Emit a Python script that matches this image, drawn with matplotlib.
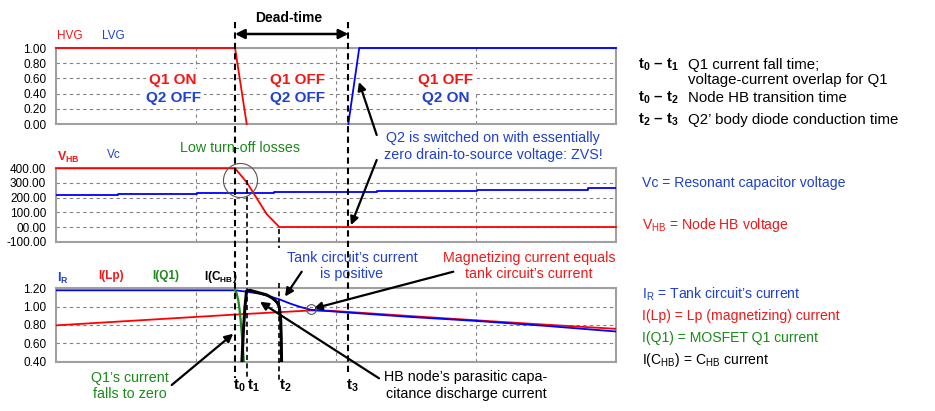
import matplotlib
matplotlib.use('Agg')
import matplotlib.pyplot as plt
import matplotlib.transforms as mtransforms
from matplotlib.lines import Line2D

plt.rcParams['font.family'] = ['Liberation Sans', 'DejaVu Sans']
plt.rcParams['mathtext.fontset'] = 'custom'
plt.rcParams['mathtext.rm'] = 'Liberation Sans'
plt.rcParams['mathtext.it'] = 'Liberation Sans:italic'
plt.rcParams['mathtext.bf'] = 'Liberation Sans:bold'

W, H, DPI = 935, 411, 100

# ---------------- data (time in grid divisions) ----------------
t_marks = [1.279, 1.362, 1.595, 2.088]
t_names = ['0', '1', '2', '3']

hvg_t = [0.0, 1.279, 1.362]
hvg_v = [1.0, 1.0, 0.0]
lvg_t = [2.088, 2.166, 4.0]
lvg_v = [0.0, 1.0, 1.0]

vhb_t = [0.0, 1.279, 1.362, 1.505, 1.595, 4.0]
vhb_v = [400, 400, 305, 88, 0, 0]
vc_t = [0.0, 0.443, 1.007, 1.557, 2.29, 3.005, 3.8, 4.0]
vc_v = [218, 225, 234, 241, 247, 252, 263, 263]

ir_t = [0.0, 1.279, 1.362, 1.457, 1.529, 1.595, 1.671, 1.743, 1.821,
        2.086, 2.529, 3.005, 3.493, 4.0]
ir_v = [1.178, 1.178, 1.163, 1.14, 1.11, 1.08, 1.034, 0.997, 0.965,
        0.935, 0.887, 0.843, 0.79, 0.728]
lp_t = [0.0, 1.279, 1.821, 1.957, 2.086, 2.529, 3.005, 3.493, 4.0]
lp_v = [0.795, 0.913, 0.958, 0.955, 0.942, 0.897, 0.85, 0.803, 0.757]
q1_t = [1.279, 1.291, 1.302, 1.311, 1.319, 1.325, 1.331, 1.337, 1.343, 1.346]
q1_v = [1.18, 1.14, 1.07, 0.97, 0.85, 0.74, 0.63, 0.5, 0.37, 0.3]
chb_t = [1.325, 1.339, 1.35, 1.361, 1.386, 1.409, 1.457, 1.505, 1.543,
         1.564, 1.582, 1.595, 1.602, 1.605, 1.609, 1.612]
chb_v = [0.3, 0.75, 1.0, 1.17, 1.178, 1.168, 1.148, 1.128, 1.095,
         1.07, 1.04, 0.997, 0.9, 0.85, 0.65, 0.3]

gate_ticks = [0.0, 0.2, 0.4, 0.6, 0.8, 1.0]
gate_labels = ['0.00', '0.20', '0.40', '0.60', '0.80', '1.00']
volt_ticks = [-100, 0, 100, 200, 300, 400]
volt_labels = ['-100.00', '00.00', '100.00', '200.00', '300.00', '400.00']
cur_ticks = [0.4, 0.6, 0.8, 1.0, 1.2]
cur_labels = ['0.40', '0.60', '0.80', '1.00', '1.20']

loss_circle = (1.316, 323)      # panel 2
equal_circle = (1.821, 0.971)   # panel 3

RED = '#ff0000'
BLUE = '#0000ff'
GREEN = '#1f8a1f'
TRED = '#f01818'
TBLUE = '#1f40d0'
TGREEN = '#1a8a1a'

fig = plt.figure(figsize=(W / DPI, H / DPI), dpi=DPI)
fig.patch.set_facecolor('white')


def make_ax(top, bottom, ylim, ticks, labels):
    ax = fig.add_axes([56 / W, 1 - bottom / H, 560 / W, (bottom - top) / H])
    ax.set_xlim(0, 4)
    ax.set_ylim(*ylim)
    ax.set_xticks([1, 2, 3])
    ax.set_xticklabels([])
    ax.set_yticks(ticks)
    ax.set_yticklabels(labels, fontsize=8.5)
    ax.tick_params(length=0, pad=7)
    ax.set_axisbelow(True)
    ax.grid(True, ls=(0, (3, 3)), color='#808080', lw=0.8)
    for s in ax.spines.values():
        s.set_color('#a0a0a0')
        s.set_linewidth(1.5)
    return ax


def P(x, y):
    return (x / W, 1 - y / H)


ax1 = make_ax(48, 124, (0, 1), gate_ticks, gate_labels)
ax2 = make_ax(168.3, 241.7, (-100, 400), volt_ticks, volt_labels)
ax3 = make_ax(288.3, 361.5, (0.4, 1.2), cur_ticks, cur_labels)

# panel 1
ax1.plot(hvg_t, hvg_v, color=RED, lw=1.3, zorder=3, clip_on=False)
ax1.plot(lvg_t, lvg_v, color=BLUE, lw=1.3, zorder=3, clip_on=False)
# panel 2
ax2.plot(vc_t, vc_v, color=BLUE, lw=1.3, zorder=3, drawstyle='steps-post')
ax2.plot(vhb_t, vhb_v, color=RED, lw=1.3, zorder=3, clip_on=False)
ax2.plot([loss_circle[0]], [loss_circle[1]], marker='o', ms=24.5, mfc='none',
         mec='#555555', mew=0.8, clip_on=False, zorder=4)
# panel 3
ax3.plot(lp_t, lp_v, color=RED, lw=1.3, zorder=3)
ax3.plot(ir_t, ir_v, color=BLUE, lw=1.3, zorder=3)
ax3.plot(q1_t, q1_v, color=GREEN, lw=1.6, zorder=4)
ax3.plot(chb_t, chb_v, color='black', lw=2.2, zorder=5)
ax3.plot([equal_circle[0]], [equal_circle[1]], marker='o', ms=7, mfc='none',
         mec='#555555', mew=0.8, zorder=6)

# vertical time markers across panels
trans = mtransforms.blended_transform_factory(ax3.transData, fig.transFigure)
segments = [
    (0, 22, 378, 1.5), (3, 22, 375, 1.5),
    (1, 180, 380, 1.2), (2, 229, 248, 1.2), (2, 283, 383, 1.2),
]
for i, y0, y1, lw in segments:
    fig.add_artist(Line2D([t_marks[i], t_marks[i]], [1 - y0 / H, 1 - y1 / H],
                          transform=trans, color='black', lw=lw,
                          ls=(0, (3, 2)), zorder=10))

# Dead-time arrow
ax1.annotate('', xy=(t_marks[3], H - 34), xycoords=('data', 'figure pixels'),
             xytext=(t_marks[0], H - 34), textcoords=('data', 'figure pixels'),
             arrowprops=dict(arrowstyle='<|-|>', color='black', lw=1.8,
                             mutation_scale=14, shrinkA=0, shrinkB=0))
fig.text(*P(289, 18), 'Dead-time', ha='center', va='center',
         fontsize=10, fontweight='bold')

# bottom t labels
t_label_dx = [4, 7, 6, 4]
for t, n, dx in zip(t_marks, t_names, t_label_dx):
    ax3.annotate(r'$\mathbf{t}_{\mathbf{%s}}$' % n, xy=(t, H - 386),
                 xycoords=('data', 'figure pixels'), xytext=(dx, 0),
                 textcoords='offset pixels', ha='center', va='center',
                 fontsize=11)

# panel labels
fig.text(*P(57, 36), 'HVG', color=TRED, fontsize=8.5, va='center')
fig.text(*P(102, 36), 'LVG', color=TBLUE, fontsize=8.5, va='center')
fig.text(*P(57, 157), r'$\mathbf{V}_{\mathbf{HB}}$', color=TRED, fontsize=9, va='center')
fig.text(*P(107, 155), 'Vc', color=TBLUE, fontsize=8.5, va='center')
fig.text(*P(57, 278), r'$\mathbf{I}_{\mathbf{R}}$', color=TBLUE, fontsize=9, va='center')
fig.text(*P(98, 276), 'I(Lp)', color=TRED, fontsize=8.5, va='center', fontweight='bold')
fig.text(*P(152, 276), 'I(Q1)', color=TGREEN, fontsize=8.5, va='center', fontweight='bold')
fig.text(*P(204, 277), r'I(C$_{\mathbf{HB}}$)', color='black', fontsize=8.5,
         va='center', fontweight='bold')

# state texts
bb = dict(facecolor='white', edgecolor='none', pad=2.5)
for cx, l1, l2 in [(173, 'Q1 ON', 'Q2 OFF'), (298, 'Q1 OFF', 'Q2 OFF'),
                   (446, 'Q1 OFF', 'Q2 ON')]:
    fig.text(*P(cx, 80), l1, color=TRED, fontsize=11, fontweight='bold',
             ha='center', va='center', bbox=bb, zorder=5)
    fig.text(*P(cx, 98), l2, color=TBLUE, fontsize=11, fontweight='bold',
             ha='center', va='center', bbox=bb, zorder=5)

# annotations
afs = 10.3
fig.text(*P(240, 148), 'Low turn-off losses', color=TGREEN, fontsize=afs,
         ha='center', va='center')
fig.text(*P(493, 146.5), 'Q2 is switched on with essentially\nzero drain-to-source voltage: ZVS!',
         color=TBLUE, fontsize=afs, ha='center', va='center')
fig.text(*P(352, 266), 'Tank circuit\u2019s current\nis positive',
         color=TBLUE, fontsize=afs, ha='center', va='center')
fig.text(*P(529, 266), 'Magnetizing current equals\ntank circuit\u2019s current',
         color=TRED, fontsize=afs, ha='center', va='center')
fig.text(*P(130, 386), 'Q1\u2019s current\nfalls to zero',
         color=TGREEN, fontsize=afs, ha='center', va='center')
fig.text(*P(466, 385.5), 'HB node\u2019s parasitic capa-\ncitance discharge current',
         color='black', fontsize=afs, ha='center', va='center')

ap = dict(arrowstyle='-|>', color='black', lw=1.6, mutation_scale=12,
          shrinkA=0, shrinkB=0)
ax1.annotate('', xy=(2.164, 0.553), xytext=(376.7, H - 135),
             textcoords='figure pixels', arrowprops=ap, annotation_clip=False)
ax2.annotate('', xy=(2.107, 13), xytext=(376.7, H - 160),
             textcoords='figure pixels', arrowprops=ap, annotation_clip=False)
ax3.annotate('', xy=(1.636, 1.11), xytext=(301.7, H - 271.7),
             textcoords='figure pixels', arrowprops=ap, annotation_clip=False)
ax3.annotate('', xy=(1.84, 0.979), xytext=(453.3, H - 271.7),
             textcoords='figure pixels', arrowprops=ap, annotation_clip=False)
ax3.annotate('', xy=(1.266, 0.703), xytext=(171.7, H - 385),
             textcoords='figure pixels', arrowprops=ap, annotation_clip=False)
ax3.annotate('', xy=(1.457, 1.052), xytext=(379, H - 378.3),
             textcoords='figure pixels', arrowprops=ap, annotation_clip=False)

# right-hand legend texts
fs = 10.8
fs2 = 10.1
fig.text(*P(638, 65), r'$\mathbf{t}_{\mathbf{0}}$' + ' \u2013 ' + r'$\mathbf{t}_{\mathbf{1}}$',
         fontsize=fs, fontweight='bold', va='center')
fig.text(*P(688, 65), 'Q1 current fall time;', fontsize=fs, va='center')
fig.text(*P(688, 80), 'voltage-current overlap for Q1', fontsize=fs, va='center')
fig.text(*P(638, 98), r'$\mathbf{t}_{\mathbf{0}}$' + ' \u2013 ' + r'$\mathbf{t}_{\mathbf{2}}$',
         fontsize=fs, fontweight='bold', va='center')
fig.text(*P(688, 98), 'Node HB transition time', fontsize=fs, va='center')
fig.text(*P(638, 120), r'$\mathbf{t}_{\mathbf{2}}$' + ' \u2013 ' + r'$\mathbf{t}_{\mathbf{3}}$',
         fontsize=fs, fontweight='bold', va='center')
fig.text(*P(688, 120), 'Q2\u2019 body diode conduction time', fontsize=fs, va='center')

fig.text(*P(641.7, 182.7), 'Vc = Resonant capacitor voltage', color=TBLUE,
         fontsize=fs2, va='center')
fig.text(*P(641.7, 225), r'V$_{\mathrm{HB}}$ = Node HB voltage', color=TRED,
         fontsize=fs2, va='center')
fig.text(*P(641.7, 294), r'I$_{\mathrm{R}}$ = Tank circuit' + '\u2019s current',
         color=TBLUE, fontsize=fs2, va='center')
fig.text(*P(641.7, 316), 'I(Lp) = Lp (magnetizing) current', color=TRED,
         fontsize=fs2, va='center')
fig.text(*P(641.7, 338.3), 'I(Q1) = MOSFET Q1 current', color=TGREEN,
         fontsize=fs2, va='center')
fig.text(*P(641.7, 360), r'I(C$_{\mathrm{HB}}$) = C$_{\mathrm{HB}}$ current',
         color='black', fontsize=fs2, va='center')

fig.savefig('out.png', dpi=DPI, facecolor='white')
